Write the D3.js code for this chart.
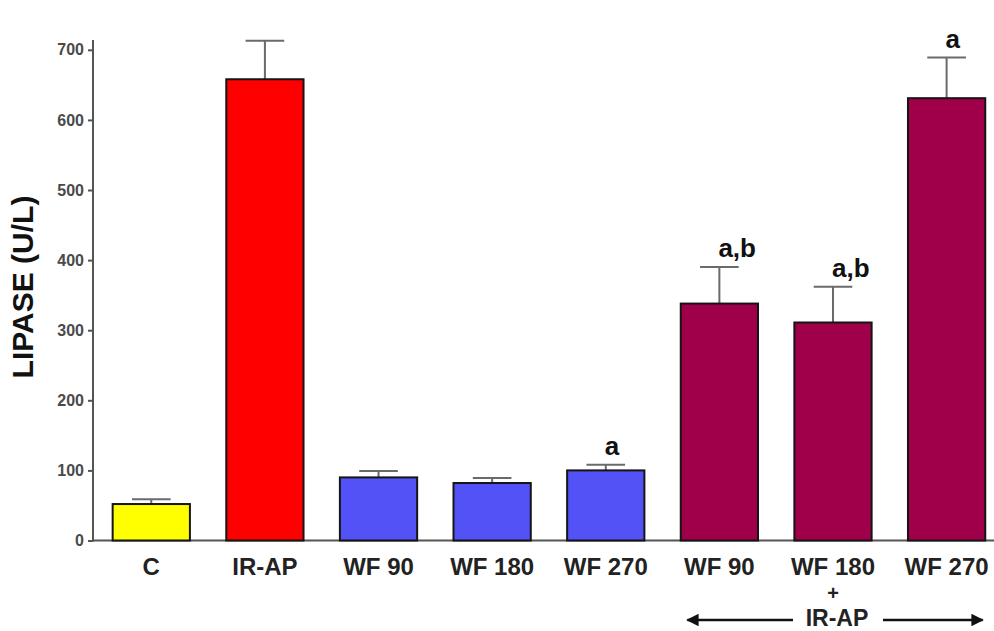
<!DOCTYPE html>
<html>
<head>
<meta charset="utf-8">
<script src="https://cdn.jsdelivr.net/npm/d3@7/dist/d3.min.js"></script>
<style>
  html, body { margin: 0; padding: 0; background: #fff; }
  svg { display: block; }
</style>
</head>
<body>
<svg id="chart" width="994" height="631"></svg>
<script>
const categories = ["C", "IR-AP", "WF 90", "WF 180", "WF 270", "WF 90", "WF 180", "WF 270"];
const values = [52, 658, 90, 82, 100, 338, 311, 631];
const errors = [7, 55, 9, 7, 8, 52, 51, 58];
const sigLabels = ["", "", "", "", "a", "a,b", "a,b", "a"];
const groups = ["control", "irap", "wf", "wf", "wf", "wfirap", "wfirap", "wfirap"];
const yTicks = [0, 100, 200, 300, 400, 500, 600, 700];
const yTitle = "LIPASE (U/L)";
const groupLabel = "IR-AP";

const colors = { control: "#ffff00", irap: "#ff0000", wf: "#5252f6", wfirap: "#a0004a" };

const svg = d3.select("#chart");
const axisX = 93, baseY = 540.5, topY = 40;

const x = d3.scaleBand()
  .domain(d3.range(categories.length))
  .range([axisX, axisX + 911.9])
  .paddingInner(0.32)
  .paddingOuter(0.173);

const y = d3.scaleLinear().domain([0, 714]).range([baseY, topY]);

// y axis
const yAxis = d3.axisLeft(y).tickValues(yTicks).tickSize(5).tickPadding(4).tickFormat(d3.format("d"));
const gy = svg.append("g").attr("transform", `translate(${axisX},0)`).call(yAxis);
gy.select(".domain").remove();
gy.selectAll(".tick line").attr("stroke", "#555").attr("stroke-width", 2);
gy.selectAll(".tick text")
  .attr("fill", "#4a4a4a")
  .style("font-family", "Liberation Sans, Arial, sans-serif")
  .style("font-weight", "bold")
  .style("font-size", "16px");
svg.append("line")
  .attr("x1", axisX).attr("x2", axisX)
  .attr("y1", y(714)).attr("y2", y(0) + 1)
  .attr("stroke", "#555").attr("stroke-width", 2);

// x axis line
svg.append("line")
  .attr("x1", axisX - 1).attr("x2", 994)
  .attr("y1", y(0)).attr("y2", y(0))
  .attr("stroke", "#555").attr("stroke-width", 2);

// error bars
const eg = svg.append("g");
categories.forEach((c, i) => {
  const cx = x(i) + x.bandwidth() / 2;
  const capW = x.bandwidth() / 2;
  eg.append("line")
    .attr("x1", cx).attr("x2", cx)
    .attr("y1", y(values[i])).attr("y2", y(values[i] + errors[i]))
    .attr("stroke", "#6a6a6a").attr("stroke-width", 2);
  eg.append("line")
    .attr("x1", cx - capW / 2).attr("x2", cx + capW / 2)
    .attr("y1", y(values[i] + errors[i])).attr("y2", y(values[i] + errors[i]))
    .attr("stroke", "#6a6a6a").attr("stroke-width", 2);
});

// bars
svg.append("g").selectAll("rect")
  .data(values)
  .join("rect")
  .attr("x", (d, i) => x(i))
  .attr("y", d => y(d))
  .attr("width", x.bandwidth())
  .attr("height", d => y(0) - y(d))
  .attr("fill", (d, i) => colors[groups[i]])
  .attr("stroke", "#151515")
  .attr("stroke-width", 2);

// significance labels
svg.append("g").selectAll("text")
  .data(sigLabels)
  .join("text")
  .attr("x", (d, i) => x(i) + x.bandwidth() / 2 - 1)
  .attr("y", (d, i) => y(values[i] + errors[i]) - 10)
  .attr("text-anchor", "start")
  .attr("fill", "#111")
  .style("font-family", "Liberation Sans, Arial, sans-serif")
  .style("font-weight", "bold")
  .style("font-size", "26px")
  .text(d => d);

// x labels
const labelFont = "Liberation Sans, Arial, sans-serif";
svg.append("g").selectAll("text")
  .data(categories)
  .join("text")
  .attr("x", (d, i) => x(i) + x.bandwidth() / 2)
  .attr("y", 575)
  .attr("text-anchor", "middle")
  .attr("fill", "#222")
  .style("font-family", labelFont)
  .style("font-weight", "bold")
  .style("font-size", "24px")
  .text(d => d);

// "+" and IR-AP group annotation
const midX = x(6) + x.bandwidth() / 2;
svg.append("text")
  .attr("x", midX).attr("y", 600)
  .attr("text-anchor", "middle")
  .attr("fill", "#222")
  .style("font-family", labelFont).style("font-weight", "bold").style("font-size", "20px")
  .text("+");
svg.append("text")
  .attr("x", midX + 4).attr("y", 626)
  .attr("text-anchor", "middle")
  .attr("fill", "#222")
  .style("font-family", labelFont).style("font-weight", "bold").style("font-size", "23px")
  .text(groupLabel);

const defs = svg.append("defs");
defs.append("marker").attr("id", "ah")
  .attr("viewBox", "0 0 10 10").attr("refX", 9).attr("refY", 5)
  .attr("markerWidth", 5).attr("markerHeight", 5)
  .attr("markerUnits", "strokeWidth")
  .attr("orient", "auto-start-reverse")
  .append("path").attr("d", "M0,0 L10,5 L0,10 z").attr("fill", "#111");

const arrowY = 620;
svg.append("line")
  .attr("x1", x(5) + x.bandwidth() / 2 - 32).attr("x2", midX - 40)
  .attr("y1", arrowY).attr("y2", arrowY)
  .attr("stroke", "#111").attr("stroke-width", 2.5)
  .attr("marker-start", "url(#ah)");
svg.append("line")
  .attr("x1", midX + 50).attr("x2", x(7) + x.bandwidth() / 2 + 36)
  .attr("y1", arrowY).attr("y2", arrowY)
  .attr("stroke", "#111").attr("stroke-width", 2.5)
  .attr("marker-end", "url(#ah)");

// y title
svg.append("text")
  .attr("transform", `translate(33,287) rotate(-90)`)
  .attr("text-anchor", "middle")
  .attr("fill", "#111")
  .style("font-family", labelFont).style("font-weight", "bold").style("font-size", "30px")
  .text(yTitle);
</script>
</body>
</html>
